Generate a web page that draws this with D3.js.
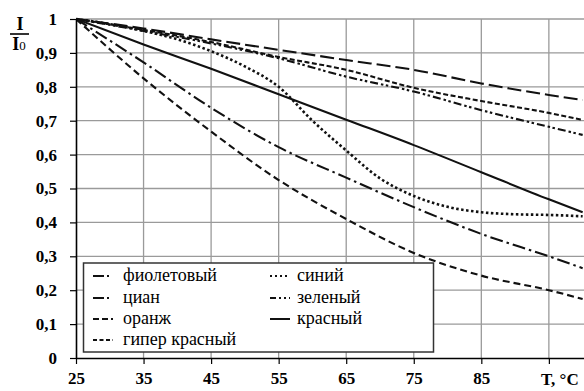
<!DOCTYPE html>
<html><head><meta charset="utf-8">
<script src="https://cdn.jsdelivr.net/npm/d3@7"></script>
<style>
html,body{margin:0;padding:0;background:#fff;}
svg{display:block;}
</style></head>
<body>
<svg id="chart" width="584" height="391"></svg>
<script>
// ---- data ----
const temps = [25, 35, 45, 55, 65, 75, 85, 95, 100];
const violet   = [1, 0.972, 0.940, 0.909, 0.879, 0.850, 0.810, 0.776, 0.761];
const hyperRed = [1, 0.968, 0.932, 0.888, 0.850, 0.797, 0.758, 0.723, 0.702];
const green    = [1, 0.965, 0.928, 0.884, 0.830, 0.786, 0.731, 0.682, 0.658];
const red      = [1, 0.925, 0.853, 0.778, 0.703, 0.628, 0.548, 0.468, 0.430];
const cyan     = [1, 0.872, 0.738, 0.622, 0.532, 0.445, 0.366, 0.300, 0.265];
const orange   = [1, 0.825, 0.668, 0.525, 0.410, 0.310, 0.243, 0.200, 0.174];
const blueTemps = [25, 30, 35, 40, 45, 50, 55, 60, 65, 70, 75, 80, 85, 90, 95, 100];
const blue      = [1, 0.985, 0.965, 0.940, 0.905, 0.860, 0.800, 0.700, 0.612, 0.530, 0.478, 0.446, 0.430, 0.424, 0.422, 0.418];
const xTicks = [25, 35, 45, 55, 65, 75, 85, 95];
const xTickLabels = ["25", "35", "45", "55", "65", "75", "85", ""];
const yTicks = [0, 0.1, 0.2, 0.3, 0.4, 0.5, 0.6, 0.7, 0.8, 0.9, 1];
const yTickLabels = ["0", "0,1", "0,2", "0,3", "0,4", "0,5", "0,6", "0,7", "0,8", "0,9", "1"];
const seriesNames = ["фиолетовый", "циан", "оранж", "гипер красный", "синий", "зеленый", "красный"];

const FONT_BOLD = "'Liberation Serif', serif";
const FONT_REG = "serif";

const series = [
  {name: seriesNames[0], t: temps, v: violet, dash: "14,5", ldash: "11,3,2,4"},
  {name: seriesNames[1], t: temps, v: cyan, dash: "13,4,2.5,4", ldash: "11,3,2,4"},
  {name: seriesNames[2], t: temps, v: orange, dash: "7,4", ldash: "6,3"},
  {name: seriesNames[3], t: temps, v: hyperRed, dash: "5,2.5", ldash: "4,2.5"},
  {name: seriesNames[4], t: blueTemps, v: blue, dash: "2.5,2.5", ldash: "2,3"},
  {name: seriesNames[5], t: temps, v: green, dash: "8,3,2.5,2.5,2.5,3", ldash: "6,3,2,3,2,3"},
  {name: seriesNames[6], t: temps, v: red, dash: null, ldash: null}
];

// ---- layout ----
const svg = d3.select("#chart");
const x = d3.scaleLinear().domain([25, 100.2]).range([76, 584]);
const y = d3.scaleLinear().domain([0, 1]).range([358, 19]);

// grid
const grid = svg.append("g");
grid.selectAll("line.v").data(xTicks.slice(1)).join("line")
  .attr("x1", d => x(d)).attr("x2", d => x(d))
  .attr("y1", y(0)).attr("y2", y(1))
  .attr("stroke", "#9a9a9a").attr("stroke-width", 1.3);
grid.selectAll("line.h").data(yTicks.slice(1)).join("line")
  .attr("x1", x(25)).attr("x2", 584)
  .attr("y1", d => y(d)).attr("y2", d => y(d))
  .attr("stroke", "#9a9a9a").attr("stroke-width", 1.3);

// curves
const line = d3.line().curve(d3.curveMonotoneX);
svg.append("clipPath").attr("id", "clip").append("rect")
  .attr("x", 76).attr("y", 10).attr("width", 510).attr("height", 350);
svg.append("g").attr("clip-path", "url(#clip)")
  .selectAll("path").data(series).join("path")
  .attr("d", s => line(s.t.map((t, i) => [x(t), y(s.v[i])])))
  .attr("fill", "none").attr("stroke", "#111")
  .attr("stroke-width", s => s.name === "синий" ? 2.6 : 2.1)
  .attr("stroke-dasharray", s => s.dash);

// axes
const xAxis = d3.axisBottom(x).tickValues(xTicks)
  .tickFormat((d, i) => xTickLabels[i]).tickSize(6).tickSizeOuter(0).tickPadding(8);
const gx = svg.append("g").attr("transform", `translate(0,${y(0)})`).call(xAxis);
gx.select(".domain").attr("stroke", "#000").attr("stroke-width", 1.6);
gx.selectAll(".tick line").attr("stroke", "#000").attr("stroke-width", 1.2);
gx.selectAll(".tick text").style("font-family", FONT_BOLD)
  .style("font-size", "17px").style("font-weight", "bold").attr("fill", "#000");

const yAxis = d3.axisLeft(y).tickValues(yTicks)
  .tickFormat((d, i) => yTickLabels[i]).tickSize(6).tickSizeOuter(0).tickPadding(13);
const gy = svg.append("g").attr("transform", `translate(${x(25)},0)`).call(yAxis);
gy.select(".domain").attr("stroke", "#000").attr("stroke-width", 1.6);
gy.selectAll(".tick line").attr("stroke", "#000").attr("stroke-width", 1.2);
gy.selectAll(".tick text").style("font-family", FONT_BOLD)
  .style("font-size", "17px").style("font-weight", "bold").attr("fill", "#000");

// axis titles
svg.append("text").attr("x", 541).attr("y", 385)
  .style("font-family", FONT_BOLD).style("font-size", "17px").style("font-weight", "bold").text("T, °C");
svg.append("text").attr("x", 20).attr("y", 30).attr("text-anchor", "middle")
  .style("font-family", FONT_BOLD).style("font-size", "18px").style("font-weight", "bold").text("I");
svg.append("line").attr("x1", 10).attr("x2", 29).attr("y1", 34).attr("y2", 34)
  .attr("stroke", "#000").attr("stroke-width", 1.6);
const t0 = svg.append("text").attr("x", 19).attr("y", 50).attr("text-anchor", "middle")
  .style("font-family", FONT_BOLD).style("font-size", "18px").style("font-weight", "bold");
t0.append("tspan").text("I");
t0.append("tspan").style("font-family", FONT_REG).style("font-size", "13px").style("font-weight", "normal").text("0");

// legend
const lg = svg.append("g");
lg.append("rect").attr("x", 83.5).attr("y", 263).attr("width", 350).attr("height", 89)
  .attr("fill", "#fff").attr("stroke", "#333").attr("stroke-width", 1.5);
const cols = [{lx: 93, tx: 123}, {lx: 270, tx: 297}];
const rowY = [276, 298, 319, 340];
const legendItems = series.map((s, i) => ({s, col: i < 4 ? 0 : 1, row: i < 4 ? i : i - 4}));
const li = lg.selectAll("g.item").data(legendItems).join("g");
li.append("line")
  .attr("x1", d => cols[d.col].lx).attr("x2", d => cols[d.col].lx + 20)
  .attr("y1", d => rowY[d.row]).attr("y2", d => rowY[d.row])
  .attr("stroke", "#111").attr("stroke-width", 2)
  .attr("stroke-dasharray", d => d.s.ldash);
li.append("text")
  .attr("x", d => cols[d.col].tx).attr("y", d => rowY[d.row] + 5)
  .style("font-family", FONT_REG).style("font-size", "18px").attr("fill", "#000")
  .text(d => d.s.name);
</script>
</body></html>
